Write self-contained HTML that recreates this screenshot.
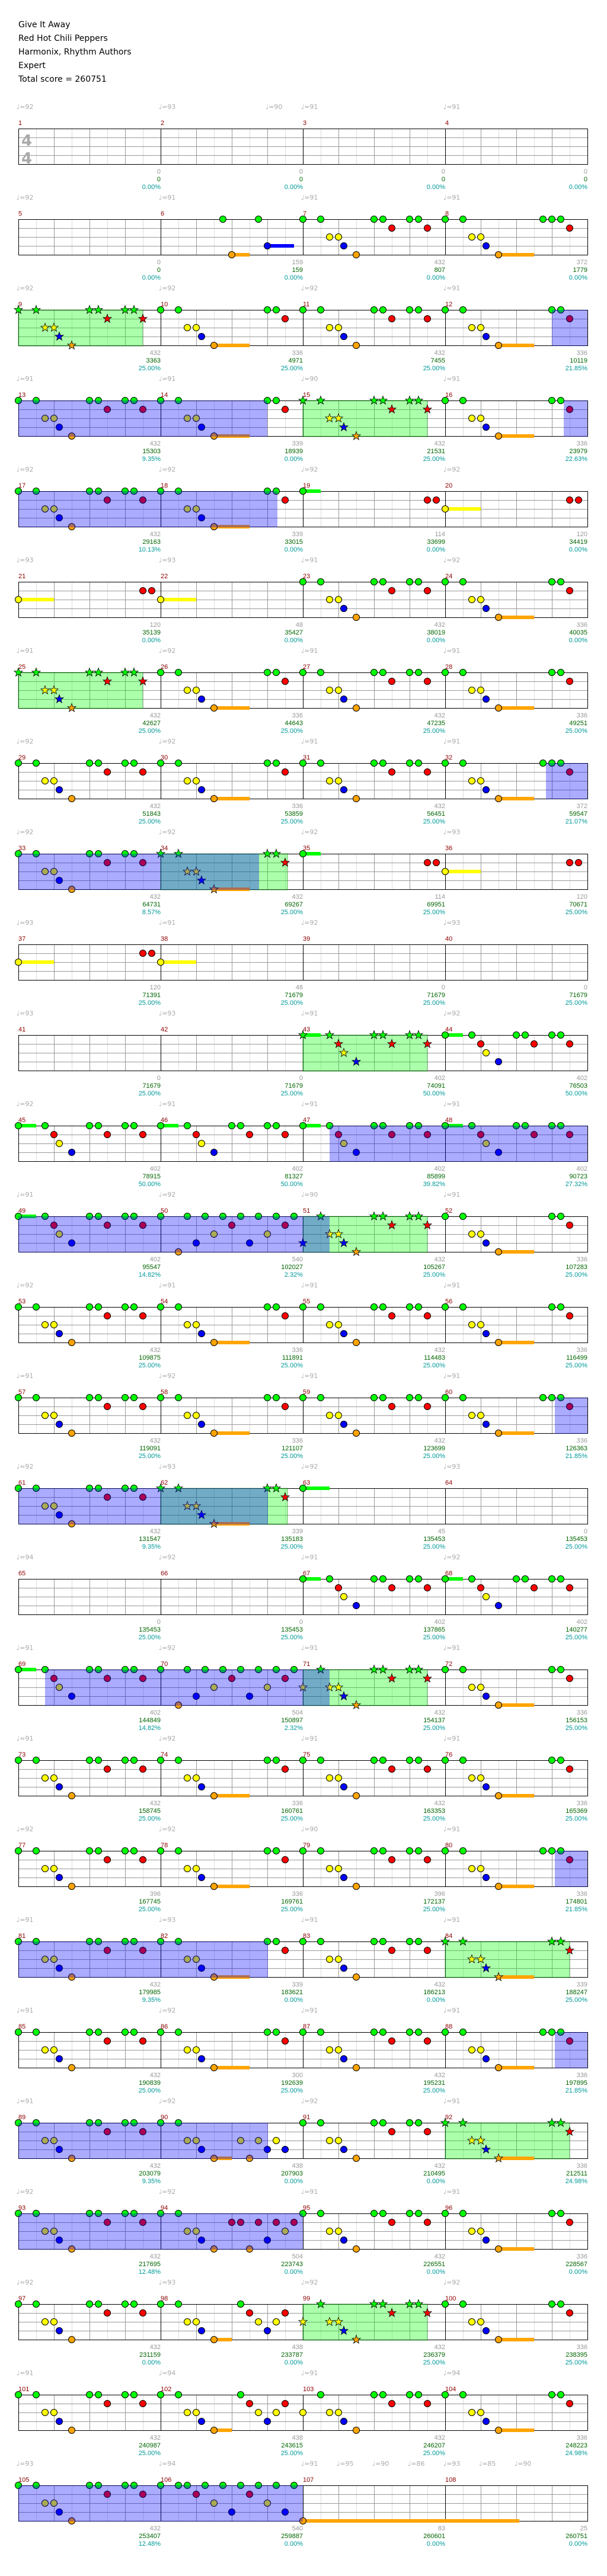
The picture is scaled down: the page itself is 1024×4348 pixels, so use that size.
<!DOCTYPE html>
<html><head><meta charset="utf-8">
<style>
html,body{margin:0;padding:0;background:#fff;width:1024px;height:4348px;overflow:hidden}
#t{position:absolute;left:31px;top:31px;font:14px "DejaVu Sans","Liberation Sans",sans-serif;line-height:23px;color:#000}
svg{position:absolute;left:0;top:0}
</style></head><body>
<div id="t">Give It Away<br>Red Hot Chili Peppers<br>Harmonix, Rhythm Authors<br>Expert<br>Total score = 260751</div>
<svg id="s" width="1024" height="4348" xmlns="http://www.w3.org/2000/svg"></svg>
<script>
const P1=[[0,0],[0,30],[0,120],[0,135],[0,180],[0,195],[1,150],[1,210],[2,45],[2,60],[3,69],[4,90]];
const P1Y=[[2,0],[0,30],[0,120],[0,135],[0,180],[0,195],[1,150],[1,210],[2,45],[2,60],[3,69],[4,90]];
const P1B=[[3,0],[0,30],[0,120],[0,135],[0,180],[0,195],[1,150],[1,210],[2,45],[2,60],[3,69],[4,90]];
const P2=[[0,0],[0,30],[0,180],[0,195],[1,210],[2,45],[2,60],[3,69],[4,90,150]];
const P2b=[[0,0],[0,30],[0,165],[0,180],[0,195],[1,210],[2,45],[2,60],[3,69],[4,90,150]];
const Q=[[0,0,30],[0,45],[0,120],[0,135],[0,180],[0,195],[1,60],[1,150],[1,210],[2,69],[3,90]];
const R50=[[0,0],[0,45],[0,75],[0,105],[0,135],[0,165],[0,195],[0,225],[1,120],[1,210],[2,90],[2,180],[3,60],[3,150],[4,30]];
const H1=[[0,0,30],[1,210],[1,225]],H63=[[0,0,45]],H2=[[2,0,60],[1,210],[1,225]],H3=[[2,0,60]];
const S6=[[0,105],[0,165],[4,120,150],[3,180,225]];
const S90=[[0,0],[0,30],[2,45],[2,60],[2,135],[2,165],[2,195],[3,69],[3,180],[3,210],[4,90,120],[4,150]];
const S94=[[0,0],[0,30],[1,120],[1,135],[1,165],[1,195],[1,225],[2,45],[2,60],[2,210],[3,69],[3,180],[4,90],[4,150]];
const S98=[[0,0],[0,30],[0,135],[1,150],[1,210],[2,45],[2,60],[2,165],[2,195],[3,69],[3,180],[4,90,120]];
const R106=[[0,0],[0,30],[0,45],[0,75],[0,105],[0,135],[0,165],[0,195],[0,225],[1,60],[1,150],[2,90],[2,180],[3,120],[3,210]];
const S107=[[4,0,365]];const E=[];
const M={};
for(let m=1;m<=108;m++)M[m]=E;
M[6]=S6;
for(let m=7;m<=38;m++)M[m]=(m%2)?P1:P2;
M[8]=P2b;M[32]=P2b;M[19]=H1;M[20]=H2;M[21]=H2;M[22]=H3;M[35]=H1;M[36]=H2;M[37]=H2;M[38]=H3;
for(let m=43;m<=49;m++)M[m]=Q;M[50]=R50;
for(let m=51;m<=62;m++)M[m]=(m%2)?P1:P2;M[51]=P1B;M[60]=P2b;
M[63]=H63;M[67]=Q;M[68]=Q;M[69]=Q;M[70]=R50;
for(let m=71;m<=105;m++)M[m]=(m%2)?P1:P2;
M[71]=P1Y;M[80]=P2b;M[88]=P2b;M[90]=S90;M[94]=S94;M[98]=S98;M[102]=S98;M[99]=P1Y;M[103]=P1Y;M[106]=R106;M[107]=S107;
const blue=[[11*240+180,13*240+180],[15*240+200,17*240+197],[31*240+170,33*240+166],[46*240+45,50*240+45],[59*240+185,61*240+181],[68*240+45,70*240+45],[79*240+185,81*240+181],[87*240+185,89*240+181],[92*240,94*240],[104*240,106*240]];
const green=[[8,210],[14,210],[24,210],[33,214],[42,210],[50,210],[61,214],[70,210],[83,210],[91,210],[98,210]].map(a=>[a[0]*240,a[0]*240+a[1]]);
const sc={1:[0,0,'0.00'],2:[0,0,'0.00'],3:[0,0,'0.00'],4:[0,0,'0.00'],5:[0,0,'0.00'],6:[159,159,'0.00'],7:[432,807,'0.00'],8:[372,1779,'0.00'],
9:[432,3363,'25.00'],10:[336,4971,'25.00'],11:[432,7455,'25.00'],12:[336,10119,'21.85'],13:[432,15303,'9.35'],14:[339,18939,'0.00'],15:[432,21531,'25.00'],16:[336,23979,'22.63'],
17:[432,29163,'10.13'],18:[339,33015,'0.00'],19:[114,33699,'0.00'],20:[120,34419,'0.00'],21:[120,35139,'0.00'],22:[48,35427,'0.00'],23:[432,38019,'0.00'],24:[336,40035,'0.00'],
25:[432,42627,'25.00'],26:[336,44643,'25.00'],27:[432,47235,'25.00'],28:[336,49251,'25.00'],29:[432,51843,'25.00'],30:[336,53859,'25.00'],31:[432,56451,'25.00'],32:[372,59547,'21.07'],
33:[432,64731,'8.57'],34:[432,69267,'25.00'],35:[114,69951,'25.00'],36:[120,70671,'25.00'],37:[120,71391,'25.00'],38:[48,71679,'25.00'],39:[0,71679,'25.00'],40:[0,71679,'25.00'],
41:[0,71679,'25.00'],42:[0,71679,'25.00'],43:[402,74091,'50.00'],44:[402,76503,'50.00'],45:[402,78915,'50.00'],46:[402,81327,'50.00'],47:[402,85899,'39.82'],48:[402,90723,'27.32'],
49:[402,95547,'14.82'],50:[540,102027,'2.32'],51:[432,105267,'25.00'],52:[336,107283,'25.00'],53:[432,109875,'25.00'],54:[336,111891,'25.00'],55:[432,114483,'25.00'],56:[336,116499,'25.00'],
57:[432,119091,'25.00'],58:[336,121107,'25.00'],59:[432,123699,'25.00'],60:[336,126363,'21.85'],61:[432,131547,'9.35'],62:[339,135183,'25.00'],63:[45,135453,'25.00'],64:[0,135453,'25.00'],
65:[0,135453,'25.00'],66:[0,135453,'25.00'],67:[402,137865,'25.00'],68:[402,140277,'25.00'],69:[402,144849,'14.82'],70:[504,150897,'2.32'],71:[432,154137,'25.00'],72:[336,156153,'25.00'],
73:[432,158745,'25.00'],74:[336,160761,'25.00'],75:[432,163353,'25.00'],76:[336,165369,'25.00'],77:[396,167745,'25.00'],78:[336,169761,'25.00'],79:[396,172137,'25.00'],80:[336,174801,'21.85'],
81:[432,179985,'9.35'],82:[339,183621,'0.00'],83:[432,186213,'0.00'],84:[339,188247,'25.00'],85:[432,190839,'25.00'],86:[300,192639,'25.00'],87:[432,195231,'25.00'],88:[336,197895,'21.85'],
89:[432,203079,'9.35'],90:[438,207903,'0.00'],91:[432,210495,'0.00'],92:[336,212511,'24.98'],93:[432,217695,'12.48'],94:[504,223743,'0.00'],95:[432,226551,'0.00'],96:[336,228567,'0.00'],
97:[432,231159,'0.00'],98:[438,233787,'0.00'],99:[432,236379,'25.00'],100:[336,238395,'25.00'],101:[432,240987,'25.00'],102:[438,243615,'25.00'],103:[432,246207,'25.00'],104:[336,248223,'24.98'],
105:[432,253407,'12.48'],106:[540,259887,'0.00'],107:[83,260601,'0.00'],108:[25,260751,'0.00']};
const tv=[92,93,90,91,92,91,91,91,92,92,92,91,91,91,90,91,92,92,92,92,93,93,91,92,91,92,91,91,92,92,91,91,92,92,92,93,93,91,92,93,93,93,91,92,92,91,91,91,91,92,90,91,92,91,91,91,91,92,91,91,92,93,92,93,94,92,91,92,91,92,91,91,91,92,91,91,92,92,90,91,91,93,91,91,91,92,91,91,91,92,92,91,92,92,91,91,92,93,92,92,91,94,91,94,93,94,91,90];
const col=['#00ff00','#ff0000','#ffff00','#0000ff','#ffa500'];
let h='';
function tempo(x,y,v){h+=`<text x="${x-3}" y="${y+4}" font-family="DejaVu Sans,sans-serif" font-size="11" fill="#aaa">♩=${v}</text>`;}
function star(cx,cy,c){let p=[];for(let i=0;i<10;i++){const r=i%2?3:7.5,a=-Math.PI/2+i*Math.PI/5;p.push((cx+r*Math.cos(a)).toFixed(1)+','+(cy+r*Math.sin(a)).toFixed(1));}h+=`<polygon points="${p.join(' ')}" fill="${c}" stroke="#000" stroke-width="0.8"/>`;}
for(let r=0;r<27;r++){
 const T=217+153*r, g0=r*960;
 // tempos
 if(r===0){[[31,92],[271,93],[451,90],[511,91],[751,91]].forEach(a=>tempo(a[0],T-37,a[1]));}
 else if(r===26){[[31,93],[271,94],[511,91],[571,95],[631,90],[691,86],[751,93],[811,85],[871,90]].forEach(a=>tempo(a[0],T-37,a[1]));}
 else for(let i=0;i<4;i++)tempo(31+240*i,T-37,tv[r*4+i]);
 // grid
 h+=`<rect x="31" y="${T}" width="960" height="60" fill="#fff"/>`;
 for(let x=31;x<991;x+=30){const k=(x-31)%240;if(k===0)continue;h+=`<line x1="${x+.5}" y1="${T}" x2="${x+.5}" y2="${T+60}" stroke="${k%60?'#dddddd':'#999'}"/>`;}
 for(let j=1;j<4;j++)h+=`<line x1="31" y1="${T+15*j+.5}" x2="991" y2="${T+15*j+.5}" stroke="#999"/>`;
 for(let i=1;i<4;i++)h+=`<line x1="${31+240*i+.5}" y1="${T}" x2="${31+240*i+.5}" y2="${T+60}" stroke="#000"/>`;
 h+=`<rect x="31.5" y="${T+.5}" width="960" height="60" fill="none" stroke="#000"/>`;
 // green
 green.forEach(([a,b])=>{const s=Math.max(a,g0),e=Math.min(b,g0+960);if(e>s)h+=`<rect x="${31+s-g0}" y="${T}" width="${e-s}" height="61" fill="rgba(0,255,0,0.33)" stroke="rgba(0,100,0,0.5)"/>`;});
 if(r===0){h+=`<text x="36" y="${T+29}" font-family="DejaVu Sans,sans-serif" font-weight="bold" font-size="26" fill="#aaa">4</text><text x="36" y="${T+59}" font-family="DejaVu Sans,sans-serif" font-weight="bold" font-size="26" fill="#aaa">4</text>`;}
 for(let i=0;i<4;i++){
  const m=r*4+i+1,x0=31+240*i;
  h+=`<text x="${x0}" y="${T-6}" font-family="Liberation Sans,sans-serif" font-size="11" fill="#8b0000">${m}</text>`;
  const s=sc[m];if(s){const xr=x0+240;
   h+=`<text x="${xr}" y="${T+76}" text-anchor="end" font-family="Liberation Sans,sans-serif" font-size="11" fill="#999">${s[0]}</text>`;
   h+=`<text x="${xr}" y="${T+89}" text-anchor="end" font-family="Liberation Sans,sans-serif" font-size="11" fill="#006400">${s[1]}</text>`;
   h+=`<text x="${xr}" y="${T+102}" text-anchor="end" font-family="Liberation Sans,sans-serif" font-size="11" fill="#009999">${s[2]}%</text>`;}
  const N=M[m];
  N.forEach(n=>{if(n.length>2)h+=`<rect x="${x0+n[1]}" y="${T+15*n[0]-3}" width="${n[2]-n[1]}" height="6" fill="${col[n[0]]}"/>`;});
  N.forEach(n=>{const gt=(m-1)*240+n[1];const isS=green.some(([a,b])=>gt>=a&&gt<=b+5);
   const cx=x0+n[1],cy=T+15*n[0];
   if(isS)star(cx,cy,col[n[0]]);else h+=`<circle cx="${cx}" cy="${cy}" r="5.5" fill="${col[n[0]]}" stroke="#000" stroke-width="1"/>`;});
 }
 blue.forEach(([a,b])=>{const s=Math.max(a,g0),e=Math.min(b,g0+960);if(e>s)h+=`<rect x="${31+s-g0}" y="${T}" width="${e-s}" height="61" fill="rgba(0,0,255,0.33)"/>`;});
}
document.getElementById('s').innerHTML=h;
</script>
</body></html>
